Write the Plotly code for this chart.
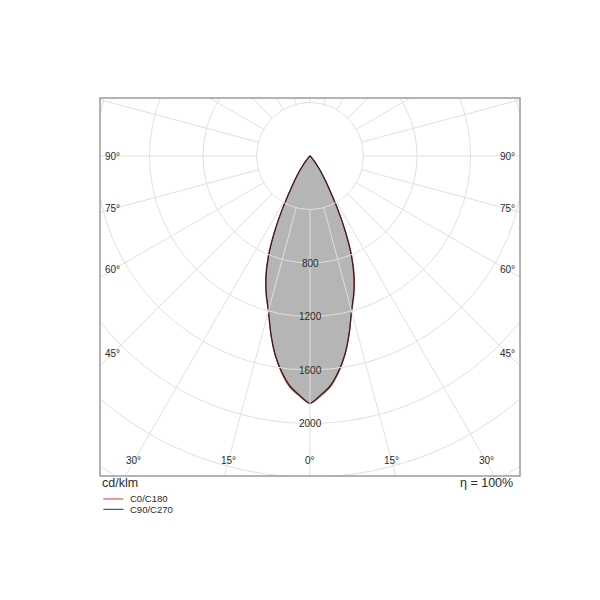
import numpy as np
import plotly.graph_objects as go

# Luminous intensity distribution (cd/klm) vs gamma angle (deg)
gamma = [0, 2.5, 5, 7.5, 10, 12.5, 15, 17.5, 20, 22.5, 25, 27.5, 30, 32.5, 35,
         37.5, 40, 45, 50, 55, 60, 70, 80, 90]
c0_c180 = [1850, 1797, 1733, 1632, 1508, 1357, 1202, 1090, 968, 818, 635, 452, 296,
           200, 135, 80, 45, 15, 6, 3, 1, 0, 0, 0]
c90_c270 = [1850, 1790, 1725, 1625, 1505, 1355, 1200, 1085, 960, 810, 630, 450, 295,
            200, 135, 80, 45, 15, 6, 3, 1, 0, 0, 0]

ring_values = [400, 800, 1200, 1600, 2000, 2400, 2800, 3200]
ring_labels = [800, 1200, 1600, 2000]
side_angle_labels = [45, 60, 75, 90]
bottom_angle_labels = [0, 15, 30]
spoke_angles = list(range(0, 360, 15))

FONT = "Liberation Sans, Arial, sans-serif"
TXT = "#2a2a2a"
GRID = "#e0e0e0"


def closed_curve(g, r):
    g = np.radians(np.array(g, dtype=float))
    r = np.array(r, dtype=float)
    # right half (C0 / C90), then left half (C180 / C270) back to nadir
    xr = r * np.sin(g)
    yr = -r * np.cos(g)
    xs = np.concatenate([xr, -xr[::-1]])
    ys = np.concatenate([yr, yr[::-1]])
    keep = [0]
    for i in range(1, len(xs)):
        if abs(xs[i] - xs[keep[-1]]) > 1e-9 or abs(ys[i] - ys[keep[-1]]) > 1e-9:
            keep.append(i)
    return xs[keep], ys[keep]


x0, y0 = closed_curve(gamma, c0_c180)
x90, y90 = closed_curve(gamma, c90_c270)

fig = go.Figure()
fig.add_trace(go.Scatter(x=x0, y=y0, mode="lines", fill="toself",
                         fillcolor="#b5b5b5",
                         line=dict(color="#cc3333", width=1.3, shape="spline", smoothing=0.7),
                         name="C0/C180", hoverinfo="skip", showlegend=False))
fig.add_trace(go.Scatter(x=x90, y=y90, mode="lines",
                         line=dict(color="#222222", width=1.1, shape="spline", smoothing=0.7),
                         name="C90/C270", hoverinfo="skip", showlegend=False))

shapes = []
for rv in ring_values:
    shapes.append(dict(type="circle", xref="x", yref="y", x0=-rv, x1=rv, y0=-rv, y1=rv,
                       line=dict(color=GRID, width=1), layer="above"))
for a in spoke_angles:
    t = np.radians(a)
    shapes.append(dict(type="line", xref="x", yref="y",
                       x0=400 * np.sin(t), y0=-400 * np.cos(t),
                       x1=4000 * np.sin(t), y1=-4000 * np.cos(t),
                       line=dict(color=GRID, width=1), layer="above"))
# frame
shapes.append(dict(type="rect", xref="paper", yref="paper", x0=0, x1=1, y0=0, y1=1,
                   line=dict(color="#9a9a9a", width=1.5), layer="above"))
# manual legend samples
shapes.append(dict(type="line", xref="paper", yref="paper", x0=0.008, x1=0.0555,
                   y0=-0.0608, y1=-0.0608, line=dict(color="#cc3333", width=1)))
shapes.append(dict(type="line", xref="paper", yref="paper", x0=0.008, x1=0.0555,
                   y0=-0.0881, y1=-0.0881, line=dict(color="#333333", width=1)))

annotations = []
for rv in ring_labels:
    annotations.append(dict(x=0, y=-rv, xref="x", yref="y", text=str(rv), showarrow=False,
                            font=dict(family=FONT, size=10, color=TXT)))
side_x = 1473
for a in side_angle_labels:
    yy = 0 if a == 90 else -side_x / np.tan(np.radians(a))
    for sx in (-1, 1):
        annotations.append(dict(x=sx * side_x, y=yy, xref="x", yref="y", text=f"{a}°",
                                showarrow=False, font=dict(family=FONT, size=10, color=TXT)))
bottom_y = -2280
for a in bottom_angle_labels:
    xx = -bottom_y * np.tan(np.radians(a))
    for sx in ((1,) if a == 0 else (-1, 1)):
        annotations.append(dict(x=sx * xx, y=bottom_y, xref="x", yref="y", text=f"{a}°",
                                showarrow=False, font=dict(family=FONT, size=10, color=TXT)))

annotations.append(dict(x=0.0, y=-0.0185, xref="paper", yref="paper", text="cd/klm",
                        xanchor="left", yanchor="middle", showarrow=False,
                        font=dict(family=FONT, size=12.5, color=TXT)))
annotations.append(dict(x=0.988, y=-0.0185, xref="paper", yref="paper", text="η = 100%",
                        xanchor="right", yanchor="middle", showarrow=False,
                        font=dict(family=FONT, size=12.5, color=TXT)))
annotations.append(dict(x=0.0667, y=-0.0608, xref="paper", yref="paper", text="C0/C180",
                        xanchor="left", yanchor="middle", showarrow=False,
                        font=dict(family=FONT, size=9.5, color=TXT)))
annotations.append(dict(x=0.0667, y=-0.0881, xref="paper", yref="paper", text="C90/C270",
                        xanchor="left", yanchor="middle", showarrow=False,
                        font=dict(family=FONT, size=9.5, color=TXT)))

fig.update_layout(
    width=600, height=600,
    margin=dict(l=92, r=88, t=90, b=132),
    paper_bgcolor="white", plot_bgcolor="white",
    xaxis=dict(range=[-1570.1, 1570.1], visible=False, fixedrange=True),
    yaxis=dict(range=[-2392.5, 433.6], visible=False, fixedrange=True),
    shapes=shapes, annotations=annotations, showlegend=False,
)

fig.write_html("out.html")
